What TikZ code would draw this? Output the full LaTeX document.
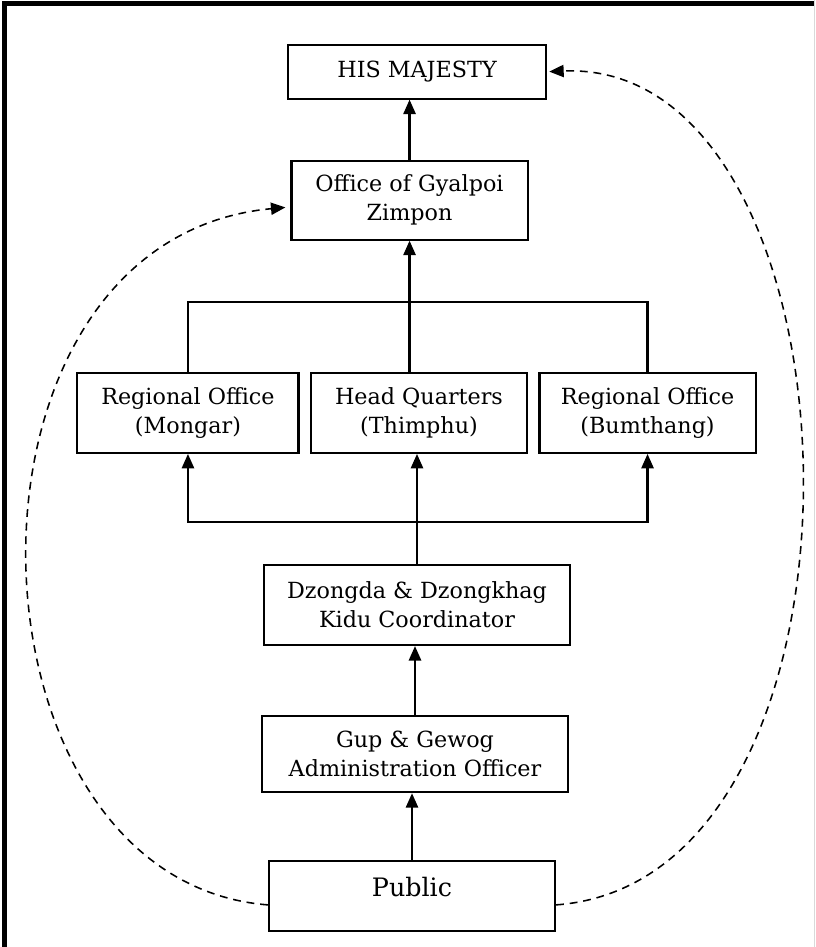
\documentclass[tikz,border=0pt]{standalone}
\usepackage{fontspec}
\setmainfont{DejaVu Serif}
\usetikzlibrary{positioning,arrows.meta}

\begin{document}
\begin{tikzpicture}[
    box/.style={draw, line width=1.1pt, align=center, inner sep=0pt,
                font=\fontsize{11.4}{15}\selectfont},
    up/.style={-{Triangle[length=0.26cm,width=0.22cm]}, line width=1.1pt},
    report/.style={-{Triangle[length=0.26cm,width=0.22cm]}, line width=0.8pt,
                   dash pattern=on 4pt off 3pt}
  ]
                \useasboundingbox (-7.416,-0.918) rectangle (7.254,16.128);
                % page frame
                \draw[line width=2.6pt] (-7.335,-0.918) -- (-7.335,16.065) -- (7.254,16.065);
                \draw[black!15, line width=0.4pt] (7.236,16.128) -- (7.236,-0.918);
                % boxes
                \node[box, minimum width=5.15cm, minimum height=1.26cm,
                      font=\fontsize{13}{17}\selectfont] (pub)
                      {\raisebox{0.16cm}[\height][\depth]{Public}};
                \node[box, minimum width=5.5cm, minimum height=1.37cm, above=1.2cm of pub, xshift=0.054cm] (gup)
                      {Gup \& Gewog\\Administration Officer};
                \node[box, minimum width=5.5cm, minimum height=1.44cm, above=1.24cm of gup, xshift=0.036cm] (dz)
                      {Dzongda \& Dzongkhag\\Kidu Coordinator};
                \node[box, minimum width=3.9cm, minimum height=1.44cm, above=1.98cm of dz, xshift=0.036cm] (hq)
                      {Head Quarters\\(Thimphu)};
                \node[box, minimum width=3.98cm, minimum height=1.44cm, left=0.18cm of hq] (mong)
                      {Regional Office\\(Mongar)};
                \node[box, minimum width=3.89cm, minimum height=1.44cm, right=0.18cm of hq] (bum)
                      {Regional Office\\(Bumthang)};
                \node[box, minimum width=4.25cm, minimum height=1.42cm, above=2.36cm of hq, xshift=-0.17cm] (zimp)
                      {Office of Gyalpoi\\Zimpon};
                \node[box, minimum width=4.64cm, minimum height=0.97cm, above=1.08cm of zimp, xshift=0.135cm] (maj)
                      {HIS MAJESTY};
                % junctions
                \coordinate[below=1.1cm of zimp] (topbar);
                \coordinate[above=0.76cm of dz] (lowbar);
                % solid links
                \draw[up] (pub.north) -- (pub.north |- gup.south);
                \draw[up] (gup.north) -- (gup.north |- dz.south);
                \draw[up] (dz.north) -- (dz.north |- hq.south);
                \draw[up] (lowbar) -| (mong.south);
                \draw[up] (lowbar) -| (bum.south);
                \draw[line width=1.1pt] (mong.north) |- (topbar) -| (bum.north);
                \draw[up] (zimp.south |- hq.north) -- (zimp.south);
                \draw[up] (zimp.north) -- (zimp.north |- maj.south);
                % direct reporting
                \draw[report] ([yshift=-0.16cm]pub.west) .. controls +(-5.66,0.45) and +(-6.3,-0.58) .. ([xshift=-0.09cm,yshift=-0.13cm]zimp.west);
                \draw[report] ([yshift=-0.16cm]pub.east) .. controls +(6.15,0.45) and +(5.8,0.25) .. ([xshift=0.04cm]maj.east);
            \end{tikzpicture}
\end{document}
